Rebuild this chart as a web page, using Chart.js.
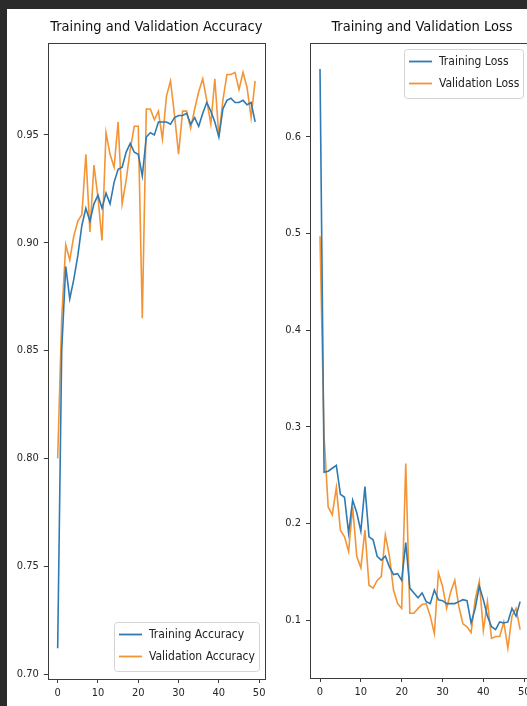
<!DOCTYPE html>
<html>
<head>
<meta charset="utf-8">
<title>Training and Validation</title>
<script src="https://cdn.jsdelivr.net/npm/chart.js@4.4.1/dist/chart.umd.min.js"></script>
<style>
    html, body { margin: 0; padding: 0; width: 527px; height: 706px; overflow: hidden; background: #2b2b2b; }
    #sheet { position: absolute; left: 7px; top: 9px; width: 560px; height: 720px; background: #fff; }
    #accChart { position: absolute; left: 8px; top: 9px; }
    #lossChart { position: absolute; left: 273px; top: 9px; }
</style>
</head>
<body>
<div id="sheet"></div>
<canvas id="accChart" width="265" height="697"></canvas>
<canvas id="lossChart" width="277" height="697"></canvas>

<script>
// Data, one value per epoch
const epochs = [0, 1, 2, 3, 4, 5, 6, 7, 8, 9, 10, 11, 12, 13, 14, 15, 16, 17, 18, 19,
    20, 21, 22, 23, 24, 25, 26, 27, 28, 29, 30, 31, 32, 33, 34, 35, 36, 37, 38, 39,
    40, 41, 42, 43, 44, 45, 46, 47, 48, 49];

const trainAcc = [0.712, 0.850, 0.889, 0.874, 0.883, 0.894, 0.908, 0.916, 0.910, 0.918,
    0.922, 0.916, 0.923, 0.918, 0.928, 0.934, 0.935, 0.942, 0.946, 0.942,
    0.941, 0.931, 0.949, 0.951, 0.950, 0.956, 0.956, 0.956, 0.955, 0.958,
    0.959, 0.959, 0.960, 0.955, 0.958, 0.954, 0.960, 0.965, 0.961, 0.956,
    0.949, 0.962, 0.966, 0.967, 0.965, 0.965, 0.966, 0.964, 0.965, 0.956];

const valAcc = [0.800, 0.865, 0.899, 0.892, 0.903, 0.910, 0.913, 0.941, 0.905, 0.936,
    0.921, 0.901, 0.951, 0.941, 0.935, 0.956, 0.918, 0.929, 0.943, 0.954,
    0.954, 0.865, 0.962, 0.962, 0.957, 0.961, 0.948, 0.968, 0.975, 0.959,
    0.941, 0.961, 0.961, 0.953, 0.962, 0.970, 0.976, 0.966, 0.955, 0.976,
    0.949, 0.966, 0.978, 0.978, 0.979, 0.971, 0.979, 0.972, 0.958, 0.975];

const trainLoss = [0.670, 0.253, 0.254, 0.257, 0.260, 0.230, 0.227, 0.190, 0.224, 0.211,
    0.192, 0.238, 0.186, 0.183, 0.166, 0.162, 0.166, 0.155, 0.147, 0.148,
    0.141, 0.180, 0.133, 0.128, 0.123, 0.128, 0.119, 0.117, 0.131, 0.121,
    0.120, 0.117, 0.117, 0.117, 0.119, 0.121, 0.120, 0.097, 0.112, 0.135,
    0.121, 0.104, 0.093, 0.090, 0.098, 0.097, 0.098, 0.112, 0.104, 0.119];

const valLoss = [0.497, 0.290, 0.217, 0.209, 0.237, 0.193, 0.186, 0.171, 0.217, 0.166,
    0.154, 0.193, 0.136, 0.133, 0.141, 0.145, 0.188, 0.166, 0.131, 0.117,
    0.112, 0.262, 0.107, 0.107, 0.112, 0.116, 0.117, 0.104, 0.086, 0.149,
    0.135, 0.112, 0.129, 0.141, 0.114, 0.096, 0.093, 0.087, 0.121, 0.140,
    0.089, 0.119, 0.081, 0.083, 0.083, 0.098, 0.071, 0.104, 0.112, 0.090];

const xTicks = [0, 10, 20, 30, 40, 50];
const accTicks = [0.70, 0.75, 0.80, 0.85, 0.90, 0.95];
const lossTicks = [0.1, 0.2, 0.3, 0.4, 0.5, 0.6];

const BLUE = '#2f7ab3';
const ORANGE = '#f39535';
const FONT = "'DejaVu Sans Condensed', 'DejaVu Sans', sans-serif";

// Box round the plot area, like a matplotlib axes frame
const framePlugin = {
    id: 'frame',
    afterDatasetsDraw(chart) {
        const { ctx, chartArea: a } = chart;
        ctx.save();
        ctx.strokeStyle = '#3c3c3c';
        ctx.lineWidth = 1;
        ctx.strokeRect(Math.round(a.left) + 0.5, Math.round(a.top) + 0.5,
            Math.round(a.width), Math.round(a.height));
        ctx.restore();
    }
};

// Legend drawn inside the plot area
const boxLegend = {
    id: 'boxLegend',
    afterDraw(chart, args, opts) {
        const { ctx, chartArea: a } = chart;
        const sets = chart.data.datasets;
        ctx.save();
        ctx.font = '12px ' + FONT;
        let maxW = 0;
        sets.forEach(ds => { maxW = Math.max(maxW, ctx.measureText(ds.label).width); });
        const w = Math.round(35 + maxW + 4);
        const h = 49;
        const x = Math.round(a.right - opts.inset - w);
        const y = opts.corner === 'top' ? Math.round(a.top + 6) : Math.round(a.bottom - 8 - h);

        ctx.beginPath();
        ctx.roundRect(x + 0.5, y + 0.5, w, h, 3);
        ctx.fillStyle = 'rgba(255,255,255,0.8)';
        ctx.fill();
        ctx.strokeStyle = '#d4d4d4';
        ctx.lineWidth = 1;
        ctx.stroke();

        sets.forEach((ds, k) => {
            const cy = y + 12.5 + k * 22;
            ctx.strokeStyle = ds.borderColor;
            ctx.lineWidth = 1.8;
            ctx.beginPath();
            ctx.moveTo(x + 5, cy);
            ctx.lineTo(x + 28, cy);
            ctx.stroke();
            ctx.fillStyle = '#222';
            ctx.textBaseline = 'middle';
            ctx.fillText(ds.label, x + 35, cy);
        });
        ctx.restore();
    }
};

function series(ys) {
    return epochs.map((e, i) => ({ x: e, y: ys[i] }));
}

function makeChart(id, opts) {
    const ctx = document.getElementById(id).getContext('2d');
    return new Chart(ctx, {
        type: 'line',
        data: {
            datasets: [{
                label: opts.labels[0],
                data: series(opts.train),
                borderColor: BLUE,
                borderWidth: 1.6,
                pointRadius: 0,
                tension: 0
            }, {
                label: opts.labels[1],
                data: series(opts.val),
                borderColor: ORANGE,
                borderWidth: 1.6,
                pointRadius: 0,
                tension: 0
            }]
        },
        options: {
            responsive: false,
            animation: false,
            layout: { padding: { left: 0, right: opts.padRight, top: 0, bottom: 0 } },
            scales: {
                x: {
                    type: 'linear',
                    min: -2.45,
                    max: opts.xMax,
                    afterBuildTicks: s => { s.ticks = xTicks.map(v => ({ value: v })); },
                    afterFit: s => { s.height = opts.xHeight; },
                    grid: { drawOnChartArea: false, drawTicks: true, tickLength: 4, color: '#3c3c3c' },
                    border: { display: false },
                    ticks: { padding: 4, color: '#262626', font: { family: FONT, size: 11 }, maxRotation: 0 }
                },
                y: {
                    type: 'linear',
                    min: opts.yMin,
                    max: opts.yMax,
                    afterBuildTicks: s => { s.ticks = opts.yTicks.map(v => ({ value: v })); },
                    afterFit: s => { s.width = opts.yWidth; },
                    grid: { drawOnChartArea: false, drawTicks: true, tickLength: 4, color: '#3c3c3c' },
                    border: { display: false },
                    ticks: {
                        padding: 5,
                        color: '#262626',
                        font: { family: FONT, size: 11 },
                        callback: v => v.toFixed(opts.digits)
                    }
                }
            },
            plugins: {
                legend: { display: false },
                tooltip: { enabled: false },
                title: {
                    display: true,
                    text: opts.title,
                    fullSize: false,
                    color: '#111',
                    font: { family: FONT, size: 14.5, weight: 'normal', lineHeight: 1.2 },
                    padding: { top: 10, bottom: 6.6 }
                },
                boxLegend: { corner: opts.corner, inset: opts.legendInset }
            }
        },
        plugins: [framePlugin, boxLegend]
    });
}

makeChart('accChart', {
    title: 'Training and Validation Accuracy',
    labels: ['Training Accuracy', 'Validation Accuracy'],
    train: trainAcc,
    val: valAcc,
    xMax: 51.45,
    yMin: 0.6977,
    yMax: 0.9926,
    yTicks: accTicks,
    digits: 2,
    yWidth: 39.8,
    xHeight: 27,
    padRight: 8,
    corner: 'bottom',
    legendInset: 6
});

makeChart('lossChart', {
    title: 'Training and Validation Loss',
    labels: ['Training Loss', 'Validation Loss'],
    train: trainLoss,
    val: valLoss,
    xMax: 52.4,
    yMin: 0.04,
    yMax: 0.697,
    yTicks: lossTicks,
    digits: 1,
    yWidth: 37,
    xHeight: 28,
    padRight: 16,
    corner: 'top',
    legendInset: 11
});
</script>
</body>
</html>
